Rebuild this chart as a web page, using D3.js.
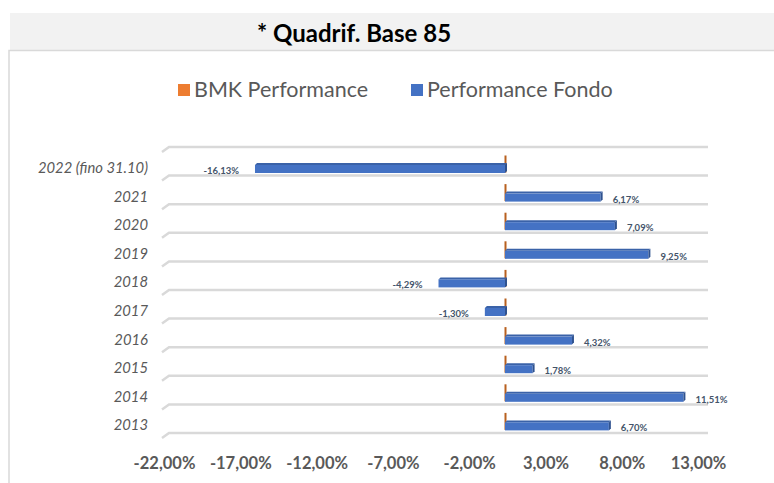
<!DOCTYPE html>
<html>
<head>
<meta charset="utf-8">
<script src="https://cdn.jsdelivr.net/npm/d3@7"></script>
<style>
  body { margin: 0; background: #fff; }
  svg { display: block; }
</style>
</head>
<body>
<div id="chart"></div>
<script>
// categories, top to bottom as drawn
const years = ['2022 (fino 31.10)', '2021', '2020', '2019', '2018', '2017', '2016', '2015', '2014', '2013'];
// series values (%)
const fondo = [-16.13, 6.17, 7.09, 9.25, -4.29, -1.30, 4.32, 1.78, 11.51, 6.70];
const bmk = [0, 0, 0, 0, 0, 0, 0, 0, 0, 0];
const seriesNames = ['BMK Performance', 'Performance Fondo'];
const tickValues = [-22, -17, -12, -7, -2, 3, 8, 13];
const title = '* Quadrif. Base 85';

const width = 774, height = 483;
const font = 'Lato, "Open Sans", sans-serif';

const svg = d3.select('#chart').append('svg')
    .attr('width', width)
    .attr('height', height);

// title band + chart box
svg.append('rect').attr('x', 10).attr('y', 13).attr('width', width - 10).attr('height', 37).attr('fill', '#f2f2f2');
svg.append('path')
    .attr('d', `M9,${height} L9,50.5 L${width},50.5`)
    .attr('fill', 'none').attr('stroke', '#d9d9d9').attr('stroke-width', 1.5);

svg.append('text')
    .attr('x', 354).attr('y', 42)
    .attr('text-anchor', 'middle')
    .style('font-family', font).style('font-weight', 'bold').style('font-size', '24px')
    .attr('fill', '#000')
    .text(title);

// legend
const legendColors = ['#ed7d31', '#4472c4'];
const legendX = [178, 411];
const legend = svg.append('g').selectAll('g').data(seriesNames).enter().append('g')
    .attr('transform', (d, i) => `translate(${legendX[i]},84)`);
legend.append('rect').attr('width', 12).attr('height', 12).attr('fill', (d, i) => legendColors[i]);
legend.append('text')
    .attr('x', 16).attr('y', 12.5)
    .style('font-family', font).style('font-size', '21.5px')
    .attr('fill', '#595959')
    .text(d => d);

// scales
const y = d3.scaleBand().domain(years).range([147, 433]);
const x = d3.scaleLinear().domain([-22, 13]).range([164, 706.5]);
// front edge of the 3D floor, where the tick labels sit
const xFront = d3.scaleLinear().domain([-22, 13]).range([164, 698]);

const locale = d3.formatLocale({ decimal: ',', thousands: '.', grouping: [3], currency: ['', '€'], minus: '-' });
const fmt = v => locale.format('.2f')(v) + '%';

// gridlines between categories, with slanted 3D left end
const gridY = years.map(d => y(d)).concat([y.range()[1]]);
svg.append('g').selectAll('path').data(gridY).enter().append('path')
    .attr('d', d => `M162,${d + 5} L169,${d} L708,${d}`)
    .attr('fill', 'none')
    .attr('stroke', '#d9d9d9')
    .attr('stroke-width', 2.5);

// category labels
svg.append('g').selectAll('text').data(years).enter().append('text')
    .attr('x', 148)
    .attr('y', d => y(d) + 26)
    .attr('text-anchor', 'end')
    .style('font-family', font).style('font-style', 'italic').style('font-size', '14.8px')
    .attr('fill', '#595959')
    .text(d => d);

// BMK series: zero values, only the depth face shows
svg.append('g').selectAll('rect').data(bmk).enter().append('rect')
    .attr('x', d => x(Math.min(0, d)) - 0.5)
    .attr('y', (d, i) => y(years[i]) + 8.5)
    .attr('width', d => Math.abs(x(d) - x(0)) + 2)
    .attr('height', 17)
    .attr('fill', '#b8601f');

// Fondo series as flat 3D bars
const bars = svg.append('g').selectAll('g').data(fondo).enter().append('g');
const barTop = i => y(years[i]) + 18;
const barBot = i => y(years[i]) + 26;
bars.append('path') // top face
    .attr('d', (d, i) => {
        const a = x(Math.min(0, d)), b = x(Math.max(0, d));
        return `M${a},${barTop(i)} L${a + 2},${barTop(i) - 2} L${b + 2},${barTop(i) - 2} L${b},${barTop(i)} Z`;
    })
    .attr('fill', '#3a62a8');
bars.append('rect') // front face
    .attr('x', d => x(Math.min(0, d)))
    .attr('y', (d, i) => barTop(i))
    .attr('width', d => Math.abs(x(d) - x(0)))
    .attr('height', (d, i) => barBot(i) - barTop(i))
    .attr('fill', '#4472c4');
bars.append('path') // end face
    .attr('d', (d, i) => {
        const b = x(Math.max(0, d));
        return `M${b},${barTop(i)} L${b + 2},${barTop(i) - 2} L${b + 2},${barBot(i) - 2} L${b},${barBot(i)} Z`;
    })
    .attr('fill', '#2f528f');

// value labels
svg.append('g').selectAll('text').data(fondo).enter().append('text')
    .attr('x', d => d < 0 ? x(d) - 16 : x(d) + 12)
    .attr('y', (d, i) => y(years[i]) + 27)
    .attr('text-anchor', d => d < 0 ? 'end' : 'start')
    .style('font-family', font).style('font-weight', 'bold').style('font-size', '9.5px')
    .attr('fill', '#44546a')
    .text(fmt);

// value axis labels
const axis = svg.append('g')
    .attr('transform', 'translate(0,452)')
    .call(d3.axisBottom(xFront).tickValues(tickValues).tickSize(0).tickFormat(fmt));
axis.select('.domain').remove();
axis.selectAll('text')
    .attr('dy', 0).attr('y', 16.5)
    .style('font-family', font).style('font-weight', 'bold').style('font-size', '16.5px')
    .attr('fill', '#595959');
</script>
</body>
</html>
